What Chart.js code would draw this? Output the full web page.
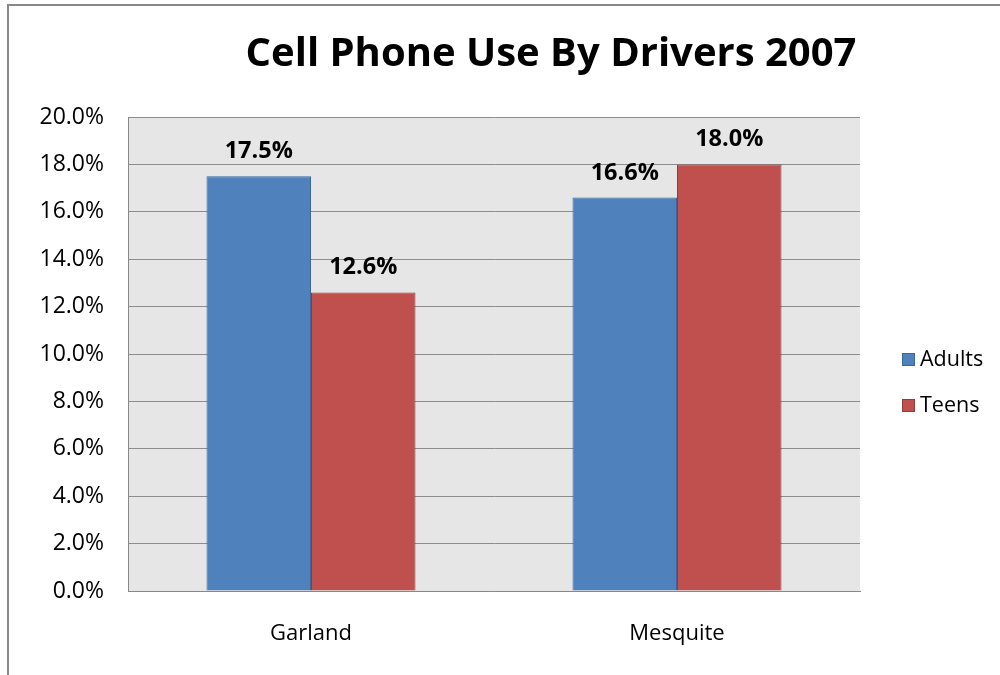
<!DOCTYPE html>
<html>
<head>
<meta charset="utf-8">
<script src="https://cdn.jsdelivr.net/npm/chart.js@4/dist/chart.umd.min.js"></script>
<style>
  html, body { margin: 0; padding: 0; background: #fff; }
  #wrap { width: 1000px; height: 675px; position: relative; }
</style>
</head>
<body>
<div id="wrap"><canvas id="phoneChart"></canvas></div>
<script>
const cities = ['Garland', 'Mesquite'];
const adults = [17.5, 16.6];
const teens = [12.6, 18.0];
const seriesNames = ['Adults', 'Teens'];
const chartTitle = 'Cell Phone Use By Drivers 2007';

const FONT = '"Open Sans", sans-serif';

// frame, plot background, title, value labels and legend
const decor = {
  id: 'decor',
  beforeDraw(chart) {
    const { ctx, chartArea: a } = chart;
    ctx.save();
    ctx.fillStyle = '#fff';
    ctx.fillRect(0, 0, chart.width, chart.height);
    ctx.strokeStyle = '#888888';
    ctx.lineWidth = 2;
    ctx.strokeRect(8, 5, chart.width + 20, chart.height + 20);
    ctx.fillStyle = '#e6e6e6';
    ctx.fillRect(a.left, a.top, a.right - a.left, a.bottom - a.top);
    ctx.restore();
  },
  afterDraw(chart) {
    const { ctx } = chart;
    ctx.save();
    ctx.fillStyle = '#000';
    ctx.textAlign = 'center';
    ctx.textBaseline = 'middle';
    ctx.font = 'bold 40px ' + FONT;
    ctx.fillText(chartTitle, 551, 55);

    ctx.font = 'bold 23.5px ' + FONT;
    ctx.textBaseline = 'bottom';
    chart.data.datasets.forEach((ds, i) => {
      chart.getDatasetMeta(i).data.forEach((bar, j) => {
        ctx.fillText(ds.data[j].toFixed(1) + '%', bar.x, bar.y - 13);
      });
    });

    ctx.font = '21.5px ' + FONT;
    ctx.textAlign = 'left';
    ctx.textBaseline = 'middle';
    chart.data.datasets.forEach((ds, i) => {
      const y = 360 + i * 46;
      ctx.fillStyle = ds.backgroundColor;
      ctx.fillRect(902, y - 7, 13, 13);
      ctx.strokeStyle = ds.borderColor;
      ctx.lineWidth = 1;
      ctx.strokeRect(902.5, y - 6.5, 12, 12);
      ctx.fillStyle = '#000';
      ctx.fillText(ds.label, 920, y);
    });
    ctx.restore();
  }
};

new Chart(document.getElementById('phoneChart'), {
  type: 'bar',
  data: {
    labels: cities,
    datasets: [{
      label: seriesNames[0],
      data: adults,
      backgroundColor: '#4f81bd',
      borderColor: '#3a679c',
      borderWidth: 1
    }, {
      label: seriesNames[1],
      data: teens,
      backgroundColor: '#c0504d',
      borderColor: '#8e3b39',
      borderWidth: 1
    }]
  },
  options: {
    responsive: true,
    maintainAspectRatio: false,
    animation: false,
    layout: {
      padding: { top: 117, right: 140, left: 0, bottom: 0 }
    },
    datasets: {
      bar: { categoryPercentage: 0.571, barPercentage: 1.0 }
    },
    scales: {
      x: {
        grid: { display: false, drawTicks: false },
        border: { color: '#888888' },
        ticks: { color: '#000', padding: 30, font: { family: FONT, size: 22 } },
        afterFit(scale) { scale.height = 84; }
      },
      y: {
        min: 0,
        max: 20,
        grid: { color: '#8c8c8c', drawTicks: false },
        border: { color: '#888888' },
        ticks: {
          stepSize: 2,
          color: '#000',
          padding: 24,
          font: { family: FONT, size: 23 },
          callback: value => value.toFixed(1) + '%'
        },
        afterFit(scale) { scale.width = 128; }
      }
    },
    plugins: {
      legend: { display: false },
      title: { display: false },
      tooltip: { enabled: false }
    }
  },
  plugins: [decor]
});
</script>
</body>
</html>
